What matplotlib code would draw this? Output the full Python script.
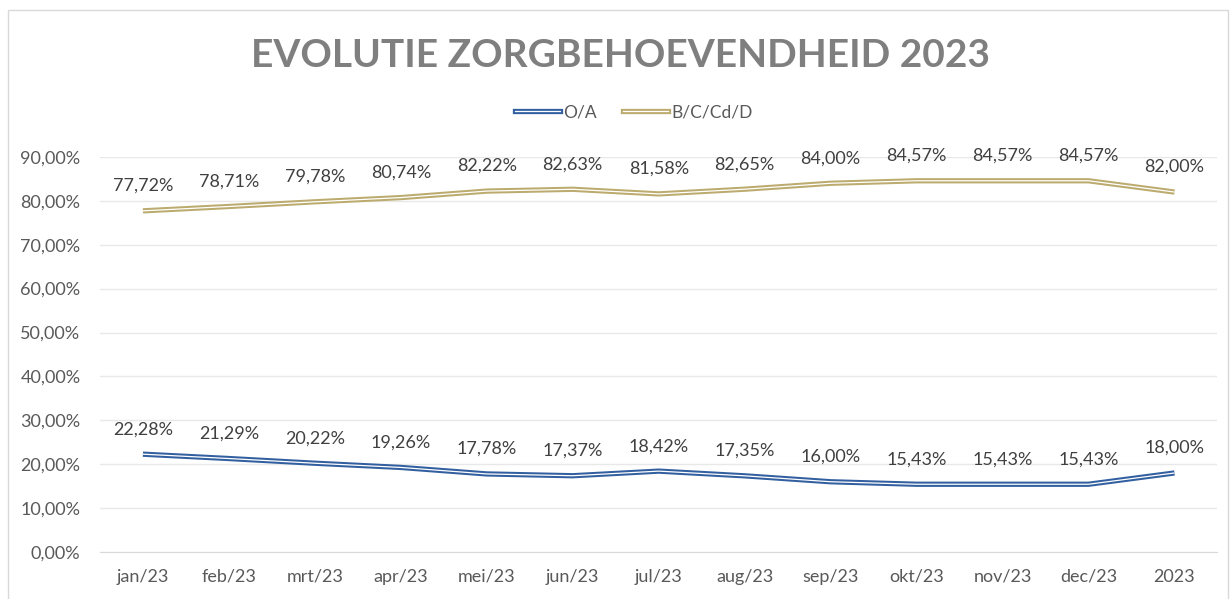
import matplotlib
matplotlib.use('Agg')
import matplotlib.pyplot as plt
from matplotlib.lines import Line2D
from matplotlib.legend_handler import HandlerTuple
from matplotlib.ticker import FuncFormatter
from matplotlib.patches import Rectangle

plt.rcParams['font.family'] = ['Lato', 'DejaVu Sans']

months = ['jan/23', 'feb/23', 'mrt/23', 'apr/23', 'mei/23', 'jun/23', 'jul/23',
          'aug/23', 'sep/23', 'okt/23', 'nov/23', 'dec/23', '2023']
oa = [22.28, 21.29, 20.22, 19.26, 17.78, 17.37, 18.42, 17.35, 16.00, 15.43, 15.43, 15.43, 18.00]
bccd = [77.72, 78.71, 79.78, 80.74, 82.22, 82.63, 81.58, 82.65, 84.00, 84.57, 84.57, 84.57, 82.00]

blue = '#325f9f'
gold = '#bcab6e'

fig = plt.figure(figsize=(12.31, 5.99), dpi=100)
ax = fig.add_axes([0.0812, 0.0785, 0.9078, 0.6595])

# chart border
fig.patches.append(Rectangle((8 / 1231, -0.05), 1220 / 1231, 1 - 10 / 599 + 0.05,
                             transform=fig.transFigure, fill=False,
                             edgecolor='#d9d9d9', lw=1))

x = range(len(months))
handles = []
for vals, col in [(oa, blue), (bccd, gold)]:
    ax.plot(x, vals, color=col, lw=3.8, solid_capstyle='butt', zorder=3)
    ax.plot(x, vals, color='white', lw=0.9, solid_capstyle='butt', zorder=4)
    handles.append((Line2D([], [], color=col, lw=3.8), Line2D([], [], color='white', lw=0.9)))
    for i, v in enumerate(vals):
        ax.annotate(f'{v:.2f}%'.replace('.', ','), (i, v), xytext=(0, 18),
                    textcoords='offset points', ha='center', va='center',
                    fontsize=13, color='#404040')

ax.set_xlim(-0.5, 12.5)
ax.set_ylim(0, 90)
ax.set_yticks(range(0, 91, 10))
ax.yaxis.set_major_formatter(FuncFormatter(lambda v, p: f'{v:.2f}%'.replace('.', ',')))
ax.set_xticks(list(x))
ax.set_xticklabels(months)
ax.tick_params(axis='both', length=0, labelsize=13, labelcolor='#595959')
ax.tick_params(axis='y', pad=14)
ax.tick_params(axis='x', pad=12)
ax.grid(axis='y', color='#e8e8e8', lw=1)
ax.set_axisbelow(True)
for s in ['top', 'right', 'left']:
    ax.spines[s].set_visible(False)
ax.spines['bottom'].set_color('#d9d9d9')

fig.text(0.504, 0.908, 'EVOLUTIE ZORGBEHOEVENDHEID 2023', ha='center', va='center',
         fontsize=28, fontweight='bold', color='#7f7f7f')

fig.legend(handles, ['O/A', 'B/C/Cd/D'], handler_map={tuple: HandlerTuple(ndivide=1)},
           loc='center', bbox_to_anchor=(0.515, 0.813), ncol=2, frameon=False,
           fontsize=12.5, labelcolor='#595959', handlelength=2.6, handletextpad=0.2,
           columnspacing=1.5)

fig.savefig('out.png', dpi=100)
